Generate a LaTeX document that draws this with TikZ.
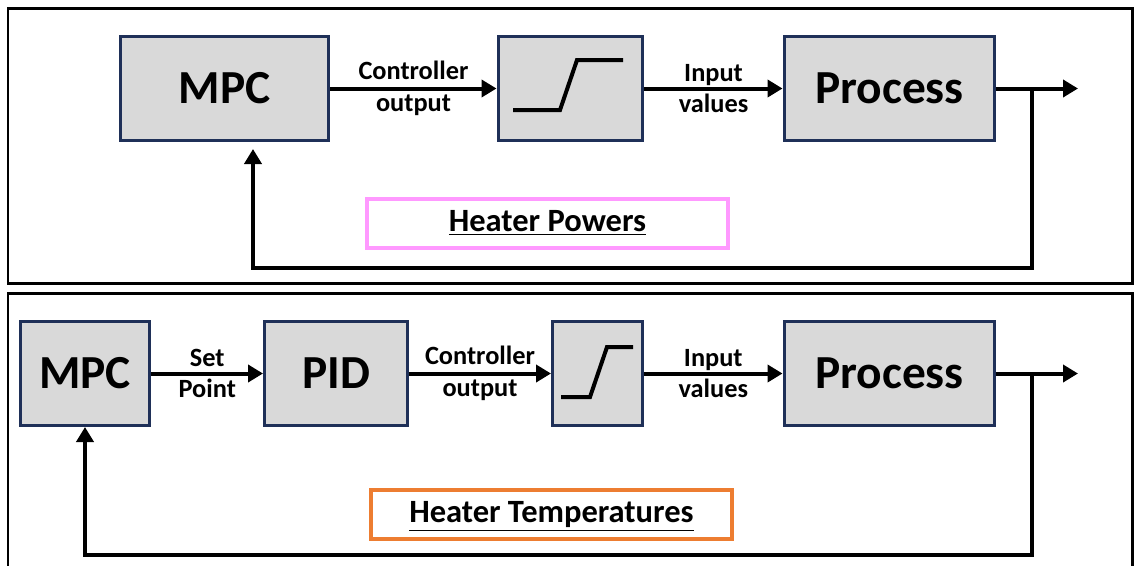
\documentclass[tikz,border=0pt]{standalone}
\usepackage{fontspec}
\setmainfont{Carlito}
\usetikzlibrary{arrows.meta}
\definecolor{boxgray}{HTML}{D9D9D9}
\definecolor{boxnavy}{HTML}{1F3058}
\definecolor{hpink}{HTML}{FF99FF}
\definecolor{horange}{HTML}{ED7D31}
\tikzset{
  block/.style={draw=boxnavy, line width=0.06cm, fill=boxgray, inner sep=0pt,
    minimum height=2.07cm, font=\fontsize{27}{29}\selectfont\bfseries},
  sig/.style={line width=0.08cm, -{Triangle[length=0.3cm,width=0.34cm]}},
  wire/.style={line width=0.08cm},
  siglabel/.style={align=center, font=\fontsize{15}{18}\selectfont\bfseries},
  panel/.style={draw=black, line width=0.06cm},
  tag/.style={line width=0.08cm, inner sep=0pt, minimum height=0.98cm,
    text height=1.24em, text depth=0.26em,
    font=\fontsize{18.5}{20}\selectfont\bfseries},
  ramp/.style={line width=0.08cm}
}
\begin{document}
\begin{tikzpicture}[x=0.02cm, y=-0.02cm]
\useasboundingbox (0,0) rectangle (1135,565);
\clip (0,0) rectangle (1135,565);
% panels
\draw[panel] (8,8) rectangle (1132,283);
\draw[panel] (8,293) rectangle (1132,580);
% upper loop
\node[block, minimum width=4.18cm] (mpcA) at (224.5,88.5) {MPC};
\node[block, minimum width=2.9cm] (satA) at (570.5,88.5) {};
\node[block, minimum width=4.22cm] (procA) at (889.5,88.5) {Process};
\draw[ramp] (513,110) -- (560,110) -- (577,60) -- (623,60);
\draw[sig] (mpcA) -- (satA) node[siglabel, midway] {Controller\\output};
\draw[sig] (satA) -- (procA) node[siglabel, midway] {Input\\values};
\coordinate (outA) at (1078,88.5);
\coordinate (brA) at (1032,88.5);
\coordinate (fbA) at (253,268);
\coordinate (tipA) at (253,149);
\draw[sig] (procA) -- (outA);
\draw[sig] (brA) |- (fbA) -- (tipA);
\node[tag, draw=hpink, minimum width=7.22cm] (powers) at (547.5,223) {\underline{Heater Powers}};
% lower loop
\node[block, minimum width=2.6cm] (mpcB) at (85,373.5) {MPC};
\node[block, minimum width=2.86cm] (pidB) at (336,373.5) {PID};
\node[block, minimum width=1.8cm] (satB) at (597.5,373.5) {};
\node[block, minimum width=4.22cm] (procB) at (889.5,373.5) {Process};
\draw[ramp] (561,397) -- (590,397) -- (607,347) -- (633,347);
\draw[sig] (mpcB) -- (pidB) node[siglabel, midway] {Set\\Point};
\draw[sig] (pidB) -- (satB) node[siglabel, midway] {Controller\\output};
\draw[sig] (satB) -- (procB) node[siglabel, midway] {Input\\values};
\coordinate (outB) at (1078,373.5);
\coordinate (brB) at (1032,373.5);
\coordinate (fbB) at (85,555);
\coordinate (tipB) at (85,427);
\draw[sig] (procB) -- (outB);
\draw[sig] (brB) |- (fbB) -- (tipB);
\node[tag, draw=horange, minimum width=7.22cm] (temps) at (551.5,514) {\underline{Heater Temperatures}};
\end{tikzpicture}
\end{document}
